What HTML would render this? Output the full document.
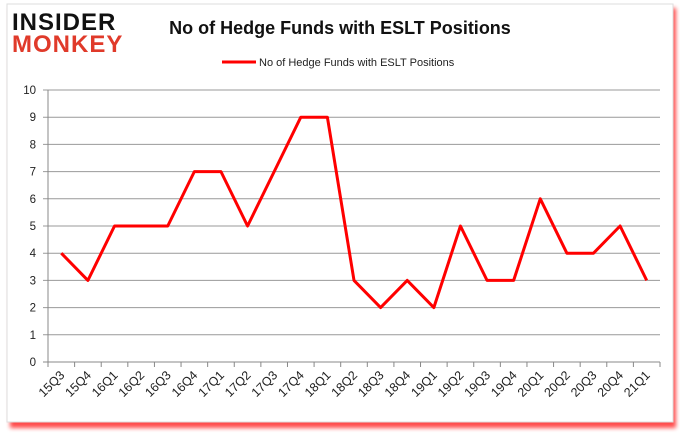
<!DOCTYPE html>
<html><head><meta charset="utf-8"><style>
body{margin:0;background:#fff;width:680px;height:433px;overflow:hidden;font-family:"Liberation Sans",sans-serif}
</style></head><body>
<svg width="680" height="433" xmlns="http://www.w3.org/2000/svg">
<defs><filter id="sh" x="-5%" y="-5%" width="110%" height="115%"><feGaussianBlur stdDeviation="2"/></filter></defs>
<rect x="10" y="8" width="666" height="420" fill="#f00" opacity="0.7" filter="url(#sh)"/>
<rect x="7" y="4" width="666" height="418" fill="#fff" stroke="#ddd"/>
<text x="12" y="30" font-size="24" font-weight="bold" fill="#111" letter-spacing="1">INSIDER</text>
<text x="12" y="52" font-size="24" font-weight="bold" fill="#e03a2a" letter-spacing="1">MONKEY</text>
<text x="340" y="34" font-size="18" font-weight="bold" text-anchor="middle" fill="#111">No of Hedge Funds with ESLT Positions</text>
<line x1="222" y1="62" x2="256" y2="62" stroke="#f00" stroke-width="3"/>
<text x="259" y="66" font-size="11" fill="#222">No of Hedge Funds with ESLT Positions</text>
<g id="grid"></g><g id="axes"></g>
<polyline id="series" fill="none" stroke="#f00" stroke-width="3" stroke-linejoin="round"/>
</svg>
<script>
const categories=["15Q3","15Q4","16Q1","16Q2","16Q3","16Q4","17Q1","17Q2","17Q3","17Q4","18Q1","18Q2","18Q3","18Q4","19Q1","19Q2","19Q3","19Q4","20Q1","20Q2","20Q3","20Q4","21Q1"];
const values=[4,3,5,5,5,7,7,5,7,9,9,3,2,3,2,5,3,3,6,4,4,5,3];
const yTicks=[0,1,2,3,4,5,6,7,8,9,10];
const NS="http://www.w3.org/2000/svg";
const x0=48,x1=660,y0=362,y1=90;
const bw=(x1-x0)/categories.length;
const xs=i=>x0+bw*(i+0.5);
const ys=v=>y0-(v/10)*(y0-y1);
const grid=document.getElementById('grid'),axes=document.getElementById('axes');
function mk(t,a,p){const e=document.createElementNS(NS,t);for(const k in a)e.setAttribute(k,a[k]);p.appendChild(e);return e;}
yTicks.forEach(v=>{
 const l=mk('line',{x1:x0-5,x2:x1,y1:ys(v),y2:ys(v),stroke:v===0?'#888':'#999','stroke-width':1},grid);
 
 
 const t=mk('text',{x:x0-12,y:ys(v)+4,'font-size':11.5,'text-anchor':'end',fill:'#222'},axes);
 t.textContent=v;
 
 
});
const ya=mk('line',{x1:x0,x2:x0,y1:y1,y2:y0,stroke:'#888'},axes);


categories.forEach((c,i)=>{
 const tk=mk('line',{x1:x0+bw*i,x2:x0+bw*i,y1:y0,y2:y0+5,stroke:'#888'},axes);
 
 
 const cx=xs(i)+4,cy=y0+14;
 const t=mk('text',{x:cx,y:cy,'font-size':12.5,'text-anchor':'end',fill:'#222',transform:`rotate(-45 ${cx} ${cy})`},axes);
 t.textContent=c;
 
 
});
const lastTk=mk('line',{x1:x1,x2:x1,y1:y0,y2:y0+5,stroke:'#888'},axes);


document.getElementById('series').setAttribute('points',values.map((v,i)=>xs(i)+','+ys(v)).join(' '));
</script>
</body></html>
